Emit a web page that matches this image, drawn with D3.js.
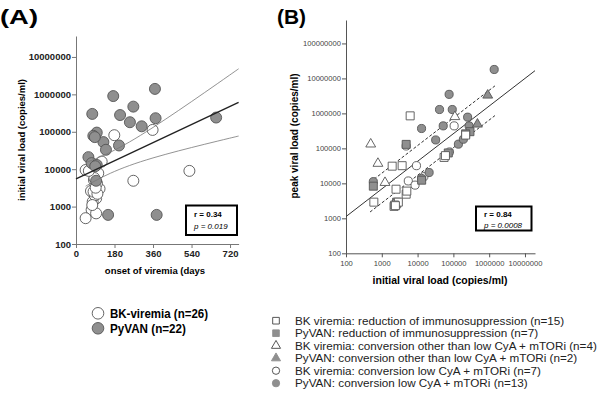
<!DOCTYPE html>
<html><head><meta charset="utf-8">
<script src="https://cdn.jsdelivr.net/npm/d3@7"></script>
<style>body{margin:0;background:#fff}svg{display:block}text{font-family:"Liberation Sans",Arial,sans-serif}</style>
</head><body>
<svg id="c" width="600" height="410"></svg>
<script>
// ---------- Panel A data ----------
const bkDays  = [179,358,530,268,45,120,104,84,100,81,94,78,73,45,94,90,70,88,110,98,82,100,76,92,86,60];
const bkLoad  = [81000,112000,9000,4900,9500,16000,7800,5100,2800,2300,1650,1350,820,490,660,3500,2600,2000,3000,4200,2500,2200,1100,3200,5800,9000];
const pyDays  = [174,369,268,76,206,252,307,372,655,97,81,128,140,201,58,73,97,94,150,377,88,90];
const pyLoad  = [900000,1400000,470000,300000,280000,180000,140000,230000,240000,95000,78000,53000,33000,43000,21000,14500,13000,4900,600,600,72000,12000];
const aTicksX = [0,180,360,540,720];
const aTicksY = [100,1000,10000,100000,1000000,10000000];
// regression (log10 load = a + b*days) and confidence band (half-width = sqrt(c0^2 + (c1*(days-x0))^2))
const aFit = [3.74, 0.00269];
const aBand = [0.28, 0.0014, 150];
const aBandDays = [45, 60, 80, 100, 130, 160, 200, 250, 300, 360, 420, 480, 540, 600, 660, 720, 760];
const aStats = ["r = 0.34", "p = 0.019"];

// ---------- Panel B data ----------
const bkRedInit = [6200,1950,3700,600,2500,4800,2200,2600,55000,2900,2300,5000,60000,220000,2400];
const bkRedPeak = [850000,31000,32000,2900,6800,4900,2200,2600,55000,2900,2400,6000,62000,240000,2300];
const pyRedInit = [4800,72000,290000,220000,580,13000,2600];
const pyRedPeak = [130000,74000,300000,260000,8300,12300,2900];
const bkOthInit = [490,780,1230,110000];
const bkOthPeak = [132000,37000,10500,800000];
const pyOthInit = [910000,470000];
const pyOthPeak = [3300000,490000];
const bkLowInit = [105000,9300,5500,8500,4800,78000,15000];
const bkLowPeak = [440000,32000,11700,8900,117000,79000,15500];
const pyLowInit = [1380000,76000,41000,93000,12900,52000,250000,275000,32000,138000,190000,21000,580,13000];
const pyLowPeak = [18000000,3500000,1290000,1290000,370000,440000,780000,440000,174000,132000,182000,20400,11200,13800];
const bTicksX = [100,1000,10000,100000,1000000,10000000];
const bTicksY = [100,1000,10000,100000,1000000,10000000,100000000];
// log10 peak = a + b*(log10 init - 2); dashed bounds offset
const bFit = [3.05, 0.79];
const bBandOff = [0.45, -0.40];
const bBandRange = [470, 1450000];
const bStats = ["r = 0.84", "p = 0.0008"];

const legendA = ["BK-viremia (n=26)", "PyVAN (n=22)"];
const legendB = ["BK viremia: reduction of immunosuppression (n=15)",
  "PyVAN: reduction of immunosuppression (n=7)",
  "BK viremia: conversion other than low CyA + mTORi (n=4)",
  "PyVAN: conversion other than low CyA + mTORi (n=2)",
  "BK viremia: conversion low CyA + mTORi (n=7)",
  "PyVAN: conversion low CyA + mTORi (n=13)"];

const GRAY = "#8f8f8f", STROKE = "#555";
const svg = d3.select("#c");

// ---------- Panel A ----------
const xA = d3.scaleLinear().domain([0,760]).range([76,238.6]);
const yA = d3.scaleLog().domain([100, Math.pow(10,7.56)]).range([244,36]);
const gA = svg.append("g");
const axA1 = gA.append("g").attr("transform","translate(0,244)")
  .call(d3.axisBottom(xA).tickValues(aTicksX).tickSize(4).tickPadding(2).tickSizeOuter(0));
const axA2 = gA.append("g").attr("transform","translate(76,0)")
  .call(d3.axisLeft(yA).tickValues(aTicksY).tickFormat(d3.format("d")).tickSize(4).tickPadding(1).tickSizeOuter(0));
[axA1,axA2].forEach(a=>{
  a.selectAll("path,line").attr("stroke","#777");
  a.selectAll("text").attr("font-size",9.5).attr("font-weight","bold").attr("fill","#222")
   .attr("font-family",'"Liberation Sans",Arial,sans-serif');
});
const ptsA = [];
bkDays.forEach((d,i)=>ptsA.push({x:d,y:bkLoad[i],g:0}));
pyDays.forEach((d,i)=>ptsA.push({x:d,y:pyLoad[i],g:1}));
gA.selectAll("circle.p").data(ptsA).join("circle")
  .attr("cx",d=>xA(d.x)).attr("cy",d=>yA(d.y)).attr("r",5.5)
  .attr("fill",d=>d.g?GRAY:"#fff").attr("stroke",STROKE).attr("stroke-width",0.9);
const fitA = d=>aFit[0]+aFit[1]*d;
const hw = d=>Math.sqrt(aBand[0]*aBand[0]+Math.pow(aBand[1]*(d-aBand[2]),2));
const lineA = d3.line().x(d=>xA(d[0])).y(d=>yA(Math.pow(10,d[1])));
gA.append("path").attr("d",lineA([[0,fitA(0)],[760,fitA(760)]]))
  .attr("stroke","#222").attr("stroke-width",1.4).attr("fill","none");
const lineC = d3.line().x(d=>xA(d[0])).y(d=>yA(Math.pow(10,d[1]))).curve(d3.curveBasis);
gA.append("path").attr("d",lineC(aBandDays.map(d=>[d,fitA(d)+hw(d)])))
  .attr("stroke","#777").attr("stroke-width",0.8).attr("fill","none");
gA.append("path").attr("d",lineC(aBandDays.map(d=>[d,fitA(d)-hw(d)])))
  .attr("stroke","#777").attr("stroke-width",0.8).attr("fill","none");
gA.append("rect").attr("x",186).attr("y",205.5).attr("width",51).attr("height",29.5)
  .attr("fill","#fff").attr("stroke","#000").attr("stroke-width",2);
gA.append("text").attr("x",194).attr("y",217).attr("font-size",8).attr("font-weight","bold").text(aStats[0]);
gA.append("text").attr("x",194).attr("y",229).attr("font-size",8).attr("font-style","italic").text(aStats[1]);
gA.append("text").attr("transform","translate(25,140) rotate(-90)").attr("text-anchor","middle")
  .attr("font-size",9.5).attr("font-weight","bold").text("initial viral load (copies/ml)");
gA.append("text").attr("x",155).attr("y",274).attr("text-anchor","middle")
  .attr("font-size",9.5).attr("font-weight","bold").text("onset of viremia (days");
svg.append("text").attr("x",0).attr("y",24).attr("font-size",21).attr("font-weight","bold")
  .attr("textLength",38).attr("lengthAdjust","spacingAndGlyphs").text("(A)");

// ---------- Panel B ----------
const xB = d3.scaleLog().domain([100, Math.pow(10,7.28)]).range([346,535]);
const yB = d3.scaleLog().domain([100, Math.pow(10,8.67)]).range([253.3,20]);
const gB = svg.append("g");
const axB1 = gB.append("g").attr("transform","translate(0,253.3)")
  .call(d3.axisBottom(xB).tickValues(bTicksX).tickFormat(d3.format("d")).tickSize(4).tickPadding(3).tickSizeOuter(0));
const axB2 = gB.append("g").attr("transform","translate(346,0)")
  .call(d3.axisLeft(yB).tickValues(bTicksY).tickFormat(d3.format("d")).tickSize(4).tickPadding(1).tickSizeOuter(0));
[axB1,axB2].forEach(a=>{
  a.selectAll("path,line").attr("stroke","#555");
  a.selectAll("text").attr("font-size",7.6).attr("fill","#444")
   .attr("font-family",'"Liberation Sans",Arial,sans-serif');
});
const lg = v=>Math.log10(v);
const fitB = x=>bFit[0]+bFit[1]*(lg(x)-2);
const lineB = d3.line().x(d=>xB(d[0])).y(d=>yB(Math.pow(10,d[1])));
gB.append("path").attr("d",lineB([[100,fitB(100)],[Math.pow(10,7.28),fitB(Math.pow(10,7.28))]]))
  .attr("stroke","#333").attr("stroke-width",1).attr("fill","none");
bBandOff.forEach(o=>{
  gB.append("path").attr("d",lineB(bBandRange.map(x=>[x,fitB(x)+o])))
    .attr("stroke","#333").attr("stroke-width",1).attr("stroke-dasharray","3,2").attr("fill","none");
});
function addPts(init,peak,shape,filled){
  const sym = d3.symbol().type(shape).size(shape===d3.symbolSquare?64:shape===d3.symbolTriangle?42:52);
  gB.append("g").selectAll("path").data(init.map((x,i)=>[x,peak[i]])).join("path")
    .attr("d",sym).attr("transform",d=>`translate(${xB(d[0])},${yB(d[1])})`)
    .attr("fill",filled?GRAY:"#fff").attr("stroke",STROKE).attr("stroke-width",0.9);
}
addPts(bkLowInit,bkLowPeak,d3.symbolCircle,false);
addPts(pyLowInit,pyLowPeak,d3.symbolCircle,true);
addPts(bkOthInit,bkOthPeak,d3.symbolTriangle,false);
addPts(pyOthInit,pyOthPeak,d3.symbolTriangle,true);
addPts(pyRedInit,pyRedPeak,d3.symbolSquare,true);
addPts(bkRedInit,bkRedPeak,d3.symbolSquare,false);
gB.append("rect").attr("x",476).attr("y",206.5).attr("width",55.5).attr("height",24)
  .attr("fill","#fff").attr("stroke","#000").attr("stroke-width",2);
gB.append("text").attr("x",484).attr("y",217).attr("font-size",8).attr("font-weight","bold").text(bStats[0]);
gB.append("text").attr("x",484).attr("y",227.5).attr("font-size",8).attr("font-style","italic").text(bStats[1]);
gB.append("text").attr("transform","translate(298,136) rotate(-90)").attr("text-anchor","middle")
  .attr("font-size",10).attr("font-weight","bold").text("peak viral load (copies/ml)");
gB.append("text").attr("x",440).attr("y",284).attr("text-anchor","middle")
  .attr("font-size",10.5).attr("font-weight","bold").text("initial viral load (copies/ml)");
svg.append("text").attr("x",277).attr("y",24).attr("font-size",21).attr("font-weight","bold")
  .attr("textLength",29).attr("lengthAdjust","spacingAndGlyphs").text("(B)");

// ---------- Legend A ----------
const legALen = [98, 76];
legendA.forEach((t,i)=>{
  const y = 313.3 + i*15;
  svg.append("circle").attr("cx",98).attr("cy",y).attr("r",5.8)
    .attr("fill",i?GRAY:"#fff").attr("stroke",STROKE).attr("stroke-width",0.9);
  svg.append("text").attr("x",110).attr("y",y+4.5).attr("font-size",13).attr("font-weight","bold")
    .attr("textLength",legALen[i]).attr("lengthAdjust","spacingAndGlyphs").text(t);
});
// ---------- Legend B ----------
const legShapes = [d3.symbolSquare,d3.symbolSquare,d3.symbolTriangle,d3.symbolTriangle,d3.symbolCircle,d3.symbolCircle];
legendB.forEach((t,i)=>{
  const y = 320.7 + i*12.5;
  const s = legShapes[i];
  svg.append("path").attr("d",d3.symbol().type(s).size(s===d3.symbolSquare?44:s===d3.symbolTriangle?36:42)())
    .attr("transform",`translate(276,${y})`)
    .attr("fill",i%2?GRAY:"#fff").attr("stroke",i%2?GRAY:"#444").attr("stroke-width",0.9);
  svg.append("text").attr("x",295).attr("y",y+4).attr("font-size",11.7).attr("fill","#222").text(t);
});
</script>
</body></html>
